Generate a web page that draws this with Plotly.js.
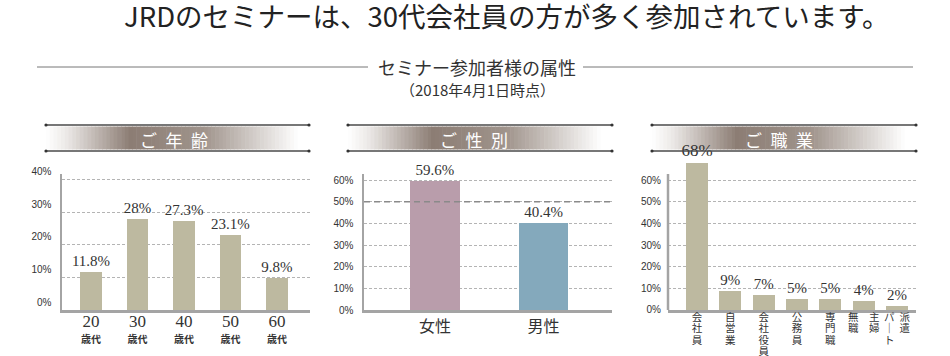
<!DOCTYPE html>
<html>
<head>
<meta charset="utf-8">
<script src="https://cdn.plot.ly/plotly-3.0.1.min.js"></script>
<style>
html,body{margin:0;padding:0;background:#fff;}
#chart{width:950px;height:356px;}
</style>
</head>
<body>
<div id="chart"></div>
<script>
// ---- data ----
var mainTitle = 'JRDのセミナーは、30代会社員の方が多く参加されています。';
var subTitle = 'セミナー参加者様の属性';
var dateNote = '（2018年4月1日時点）';
var panelTitles = ['ご\u2002年\u2002齢', 'ご\u2002性\u2002別', 'ご\u2002職\u2002業'];

var ageCats = ['20', '30', '40', '50', '60'];
var ageSuffix = '歳代';
var ageVals = [11.8, 28, 27.3, 23.1, 9.8];

var genderCats = ['女性', '男性'];
var genderVals = [59.6, 40.4];

var jobCats = ['会社員', '自営業', '会社役員', '公務員', '専門職', '主婦・無職', '派遣・パート'];
var jobTicks = ['会<br>社<br>員', '自<br>営<br>業', '会<br>社<br>役<br>員', '公<br>務<br>員', '専<br>門<br>職',
  '無\u3000主<br>職\u3000婦', 'パ\u2002派<br>｜\u2002遣<br>ト\u2002\u3000'];
var jobVals = [68, 9, 7, 5, 5, 4, 2];

var pctTicks = [0, 10, 20, 30, 40, 50, 60];
var pctLabels = ['0%', '10%', '20%', '30%', '40%', '50%', '60%'];

// ---- helpers ----
var W = 950, H = 356;
function px(x) { return x / W; }
function py(y) { return (H - y) / H; }

var SANS = 'Liberation Sans, Arial, sans-serif';
var SERIF = 'Liberation Serif, Times New Roman, serif';
var JP = 'Noto Sans CJK JP, sans-serif';

var barKhaki = '#bdb9a0';
var axisCol = '#a4a4a4';
var gridCol = '#b4b4b4';

var ageTicks = ageCats.map(function (c) {
  return '<span style="font-family:' + SERIF + ';font-size:17px">' + c + '</span><br><b><span style="font-size:10px">' + ageSuffix + '</span></b>';
});
var jobTickText = jobTicks.map(function (t) {
  return '<span style="font-size:10.5px">' + t.split('<br>').join('</span><br><span style="font-size:10.5px">') + '</span>';
});

var traces = [
  {
    type: 'bar', x: ageCats, y: ageVals, xaxis: 'x', yaxis: 'y',
    marker: { color: barKhaki }, width: 0.47,
    texttemplate: '%{y}%', textposition: 'outside', constraintext: 'none', cliponaxis: false,
    textfont: { family: SERIF, size: 15, color: '#333' }, hoverinfo: 'skip'
  },
  {
    type: 'bar', x: genderCats, y: genderVals, xaxis: 'x2', yaxis: 'y2',
    marker: { color: ['#b99dab', '#84a9bc'] }, width: 0.46,
    texttemplate: '%{y}%', textposition: 'outside', constraintext: 'none', cliponaxis: false,
    textfont: { family: SERIF, size: 15, color: '#333' }, hoverinfo: 'skip'
  },
  {
    type: 'bar', x: jobCats, y: jobVals, xaxis: 'x3', yaxis: 'y3',
    marker: { color: barKhaki }, width: 0.66,
    texttemplate: '%{y}%', textposition: 'outside', constraintext: 'none', cliponaxis: false,
    textfont: { family: SERIF, size: [17, 15, 15, 15, 15, 15, 15], color: '#333' }, hoverinfo: 'skip'
  }
];

function xAxis(dom, range, tickfont, tickvals, ticktext) {
  var a = {
    domain: dom, type: 'category', range: range, showline: true, linecolor: axisCol, linewidth: 2.5,
    ticks: '', showgrid: false, zeroline: false, tickfont: tickfont, fixedrange: true
  };
  if (tickvals) { a.tickmode = 'array'; a.tickvals = tickvals; a.ticktext = ticktext; }
  return a;
}
function yAxis(range, topPx, shift, showline) {
  return {
    domain: [46 / H, (H - topPx) / H], range: range, tickmode: 'array', tickvals: pctTicks,
    ticktext: pctLabels, showgrid: true,
    gridcolor: gridCol, gridwidth: 1, griddash: '3px,2px', showline: showline, linecolor: axisCol,
    linewidth: 2.5, zeroline: false, ticks: '', ticklabelstandoff: 6, ticklabelshift: shift || 0,
    tickfont: { family: SANS, size: 10, color: '#333' }, fixedrange: true
  };
}

var shapes = [];
var annotations = [];

// subtitle lines
shapes.push({ type: 'line', xref: 'paper', yref: 'paper', x0: px(37), x1: px(368), y0: py(67), y1: py(67), line: { color: '#777', width: 1 } });
shapes.push({ type: 'line', xref: 'paper', yref: 'paper', x0: px(583), x1: px(913), y0: py(67), y1: py(67), line: { color: '#777', width: 1 } });

// panel header bands
function lerp(a, b, t) { return Math.round(a + (b - a) * t); }
var stops = [[0, 255, 255, 255], [0.08, 235, 232, 230], [0.32, 140, 125, 116], [0.6, 160, 148, 140], [0.96, 255, 255, 255], [1, 255, 255, 255]];
function gradColor(t) {
  for (var i = 0; i < stops.length - 1; i++) {
    var s0 = stops[i], s1 = stops[i + 1];
    if (t >= s0[0] && t <= s1[0]) {
      var u = (t - s0[0]) / (s1[0] - s0[0]);
      return 'rgb(' + lerp(s0[1], s1[1], u) + ',' + lerp(s0[2], s1[2], u) + ',' + lerp(s0[3], s1[3], u) + ')';
    }
  }
  return '#fff';
}
var headers = [
  { x0: 46, x1: 309, tx: 174 },
  { x0: 348, x1: 612, tx: 474 },
  { x0: 652, x1: 916, tx: 779 }
];
headers.forEach(function (h, k) {
  var N = 70, w = (h.x1 - h.x0) / N;
  for (var i = 0; i < N; i++) {
    shapes.push({
      type: 'rect', xref: 'paper', yref: 'paper', layer: 'below',
      x0: px(h.x0 + i * w), x1: px(h.x0 + (i + 1) * w + 0.6), y0: py(149.5), y1: py(126.5),
      fillcolor: gradColor((i + 0.5) / N), line: { width: 0 }
    });
  }
  [125, 151].forEach(function (yy) {
    shapes.push({ type: 'line', xref: 'paper', yref: 'paper', x0: px(h.x0), x1: px(h.x1), y0: py(yy), y1: py(yy), line: { color: '#4a4a4a', width: 1.3 } });
    [h.x0, h.x1].forEach(function (xx) {
      shapes.push({ type: 'circle', xref: 'paper', yref: 'paper', x0: px(xx - 1.6), x1: px(xx + 1.6), y0: py(yy - 1.6), y1: py(yy + 1.6), fillcolor: '#333', line: { width: 0 } });
    });
  });
  annotations.push({
    xref: 'paper', yref: 'paper', x: px(h.tx), y: py(139), xanchor: 'center', yanchor: 'middle',
    text: panelTitles[k], showarrow: false, font: { family: JP, size: 17, color: '#ffffff' }
  });
});

// 50% reference line in gender chart
shapes.push({ type: 'line', xref: 'x2 domain', yref: 'y2', x0: 0, x1: 1, y0: 50, y1: 50, line: { color: '#8a8a8a', width: 1.4, dash: '6px,4px' } });
// y axis line of the job chart (its range is taller so the 68% bar fits)
shapes.push({ type: 'line', xref: 'x3 domain', yref: 'y3', x0: 0, x1: 0, y0: 0, y1: 62.8, line: { color: axisCol, width: 2.5 } });

// titles
annotations.push({ xref: 'paper', yref: 'paper', x: px(507), y: py(15), xanchor: 'center', yanchor: 'middle', text: mainTitle, showarrow: false, font: { family: JP, size: 27.5, color: '#222' } });
annotations.push({ xref: 'paper', yref: 'paper', x: px(477), y: py(67), xanchor: 'center', yanchor: 'middle', text: subTitle, showarrow: false, font: { family: JP, size: 18, color: '#333' } });
annotations.push({ xref: 'paper', yref: 'paper', x: px(477), y: py(90), xanchor: 'center', yanchor: 'middle', text: dateNote, showarrow: false, font: { family: JP, size: 15, color: '#333' } });

var layout = {
  width: W, height: H, margin: { l: 0, r: 0, t: 0, b: 0 },
  paper_bgcolor: '#fff', plot_bgcolor: 'rgba(0,0,0,0)',
  showlegend: false, hovermode: false, bargap: 0,
  xaxis: xAxis([62 / W, 310 / W], [-0.624, 4.71], { family: JP, size: 12, color: '#333' }, ageCats, ageTicks),
  yaxis: yAxis([0, 41.8], 174, -8, true),
  xaxis2: xAxis([364 / W, 612 / W], [-0.654, 1.631], { family: JP, size: 16, color: '#333' }),
  yaxis2: yAxis([0, 62.8], 174, 0, true),
  xaxis3: xAxis([668 / W, 916 / W], [-0.87, 6.57], { family: JP, size: 8.7, color: '#333' }, jobCats, jobTickText),
  yaxis3: yAxis([0, 72], 310 - 72 * (136 / 62.8), 0, false),
  shapes: shapes, annotations: annotations
};
layout.xaxis3.ticklabelstandoff = -2;
layout.yaxis.anchor = 'x';
layout.yaxis2.anchor = 'x2';
layout.yaxis3.anchor = 'x3';
layout.xaxis.anchor = 'y';
layout.xaxis2.anchor = 'y2';
layout.xaxis3.anchor = 'y3';

Plotly.newPlot('chart', traces, layout, { staticPlot: true, displayModeBar: false });
</script>
</body>
</html>
